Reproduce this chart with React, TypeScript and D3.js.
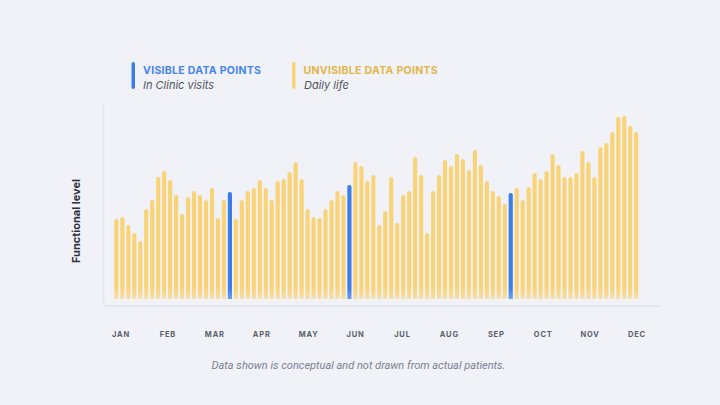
import React from "react";
import * as d3 from "d3";

const months = ["JAN","FEB","MAR","APR","MAY","JUN","JUL","AUG","SEP","OCT","NOV","DEC"];
const levels = [
  80,82,74,66,58,90,99,122,128,119,104,85,102,108,104,99,111,81,99,107,
  80,99,108,111,119,111,99,118,120,127,137,120,90,82,81,90,99,108,104,114,
  137,133,118,124,74,88,122,76,104,108,142,124,66,108,124,139,133,145,140,129,
  149,134,118,108,103,95,106,111,99,112,126,120,128,145,134,122,122,126,148,137,
  122,152,156,167,182,183,173,167
];
const visibleIdx = [19, 39, 66];

const W = 720, H = 405;
const BG = "#f0f2f7";
const YELLOW = "#f9d378";
const BLUE = "#3c7de6";

export default function App() {
  const x = d3.scaleBand<number>().domain(d3.range(levels.length)).range([114.3, 638.3]).paddingInner(0.3);
  const y = d3.scaleLinear().domain([0, 200]).range([299, 99]);
  const mx = d3.scalePoint<string>().domain(months).range([121, 637]);
  const bw = x.bandwidth();
  const r = 2;
  const barPath = (i: number) => {
    const x0 = x(i)!, x1 = x0 + bw, yt = y(levels[i]), yb = y(0);
    return `M${x0},${yb}V${yt + r}Q${x0},${yt} ${x0 + r},${yt}H${x1 - r}Q${x1},${yt} ${x1},${yt + r}V${yb}Z`;
  };
  return (
    <svg width={W} height={H} style={{ position: "fixed", left: 0, top: 0, background: BG }}>
      <defs>
        <linearGradient id="gy" gradientUnits="userSpaceOnUse" x1="0" y1="288" x2="0" y2="299">
          <stop offset="0" stopColor={YELLOW} stopOpacity={1} />
          <stop offset="1" stopColor={YELLOW} stopOpacity={0.6} />
        </linearGradient>
        <linearGradient id="gb" gradientUnits="userSpaceOnUse" x1="0" y1="288" x2="0" y2="299">
          <stop offset="0" stopColor={BLUE} stopOpacity={1} />
          <stop offset="1" stopColor={BLUE} stopOpacity={0.7} />
        </linearGradient>
      </defs>
      <rect width={W} height={H} fill={BG} />
      {/* frame */}
      <path d="M103.5,104V302Q103.5,306 107.5,306H660" fill="none" stroke="#e2e4ea" strokeWidth={1.5} />
      {/* legend */}
      <rect x={131.5} y={62} width={3.5} height={27} rx={1.75} fill={BLUE} />
      <text x={143} y={74} fontFamily="Inter, 'Open Sans', sans-serif" fontWeight={700} fontSize={10.5} letterSpacing={0.3} fill="#4585ea">VISIBLE DATA POINTS</text>
      <text x={143} y={88.5} fontFamily="Inter, 'Open Sans', sans-serif" fontStyle="italic" fontSize={11} fill="#50545e">In Clinic visits</text>
      <rect x={292} y={62} width={3.5} height={27} rx={1.75} fill={YELLOW} />
      <text x={303.5} y={74} fontFamily="Inter, 'Open Sans', sans-serif" fontWeight={700} fontSize={10.5} letterSpacing={0.3} fill="#e3b548">UNVISIBLE DATA POINTS</text>
      <text x={304} y={88.5} fontFamily="Inter, 'Open Sans', sans-serif" fontStyle="italic" fontSize={11} fill="#50545e">Daily life</text>
      {/* y label */}
      <text transform="translate(79.5,221) rotate(-90)" textAnchor="middle" fontFamily="Inter, 'Open Sans', sans-serif" fontWeight={700} fontSize={11} fill="#2f333b">Functional level</text>
      {/* bars */}
      {levels.map((v, i) => (
        <path key={i} d={barPath(i)} fill={visibleIdx.includes(i) ? "url(#gb)" : "url(#gy)"} />
      ))}
      {/* month labels */}
      {months.map((m) => (
        <text key={m} x={mx(m)} y={337} textAnchor="middle" fontFamily="Inter, 'Open Sans', sans-serif" fontWeight={700} fontSize={7.5} letterSpacing={0.8} fill="#5a5f6b">{m}</text>
      ))}
      <text x={358.5} y={369} textAnchor="middle" fontFamily="Roboto, Inter, sans-serif" fontStyle="italic" fontSize={11} fill="#7b7f94">Data shown is conceptual and not drawn from actual patients.</text>
    </svg>
  );
}
